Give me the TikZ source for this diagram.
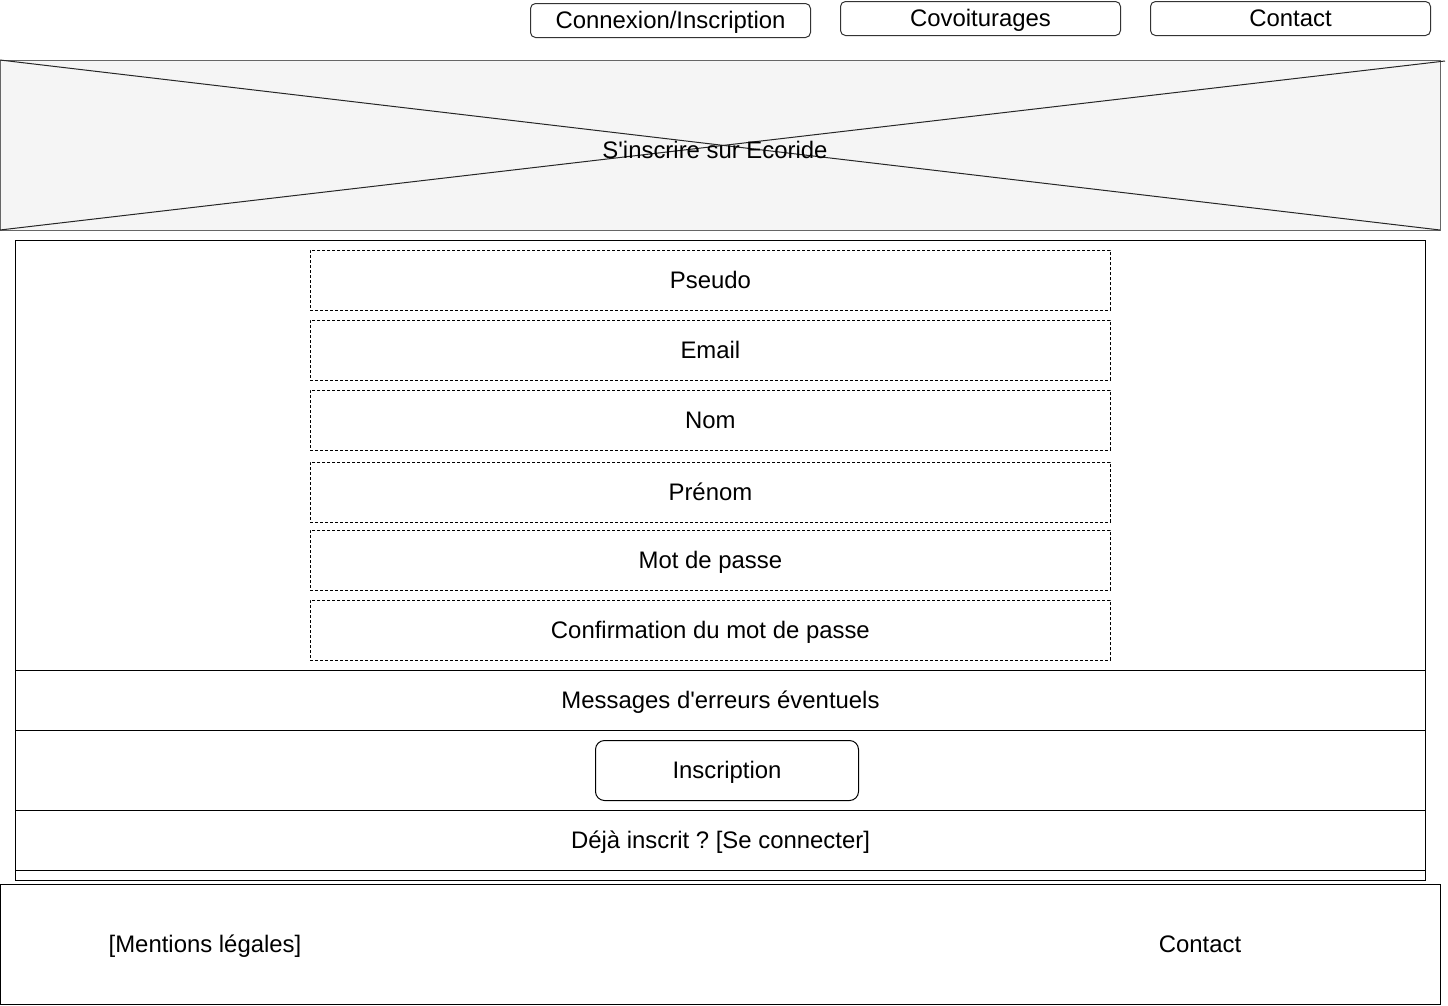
\documentclass[tikz,border=0pt]{standalone}
\usepackage{fontspec}
\setmainfont{Liberation Sans}[Ligatures=TeXOff]
\definecolor{hdrfill}{HTML}{F5F5F5}
\definecolor{hdrline}{HTML}{666666}
\definecolor{btnline}{HTML}{333333}
\begin{document}
\frenchspacing
\begin{tikzpicture}[x=1pt,y=-1pt,
  every node/.style={font=\fontsize{23.9}{28}\selectfont\frenchspacing, inner sep=0pt, text height=21.6pt, text depth=5.1pt},
  navbtn/.style={draw=btnline, line width=1pt, rounded corners=5pt, anchor=north west, minimum width=280pt, minimum height=34pt},
  field/.style={draw=black, dashed, dash pattern=on 3pt off 2pt, line width=0.8pt, anchor=north west, minimum width=800pt, minimum height=60pt},
  row/.style={draw=black, line width=1pt, anchor=north west, minimum width=1410pt}
]
\useasboundingbox (0,0) rectangle (1448,1005);
% nav buttons
\node[navbtn] (nav1) at (530,3) {Connexion/Inscription};
\node[navbtn] (nav2) at (840,1) {Covoiturages};
\node[navbtn] (nav3) at (1150,1) {Contact};
% header
\node[draw=hdrline, fill=hdrfill, line width=1pt, anchor=north west, minimum width=1440pt, minimum height=170pt] (hdr) at (0,60) {};
\coordinate (xtl) at (0,60);
\coordinate (xtr) at (1445,61);
\coordinate (xbl) at (0,230);
\coordinate (xbr) at (1440,230);
\draw[black!85, line width=1pt] (xtl) -- (xbr);
\draw[black!85, line width=1pt] (xtr) -- (xbl);
\node (hdrtext) at (715,150) {S'inscrire sur Ecoride};
% main container
\node[row, minimum height=430pt] (formarea) at (15,240) {};
\node[row, minimum height=60pt] (errors) at (15,670) {Messages d'erreurs éventuels};
\node[row, minimum height=80pt] (btnrow) at (15,730) {};
\node[row, minimum height=60pt] (login) at (15,810) {Déjà inscrit ? [Se connecter]};
\node[row, minimum height=10pt, text height=0pt, text depth=0pt] (spacer) at (15,870) {};
% fields
\node[field] (f1) at (310,250) {Pseudo};
\node[field] (f2) at (310,320) {Email};
\node[field] (f3) at (310,390) {Nom};
\node[field] (f4) at (310,462) {Prénom};
\node[field] (f5) at (310,530) {Mot de passe};
\node[field] (f6) at (310,600) {Confirmation du mot de passe};
% inscription button
\node[draw=black, line width=1pt, rounded corners=9pt, anchor=north west, minimum width=263pt, minimum height=60pt] (btn) at (595,740) {Inscription};
% footer
\node[draw=black, line width=1pt, anchor=north west, minimum width=1440pt, minimum height=120pt] (footer) at (0,884) {};
\node (mentions) at (205,944) {[Mentions légales]};
\node (fcontact) at (1200,944) {Contact};
\end{tikzpicture}
\end{document}
